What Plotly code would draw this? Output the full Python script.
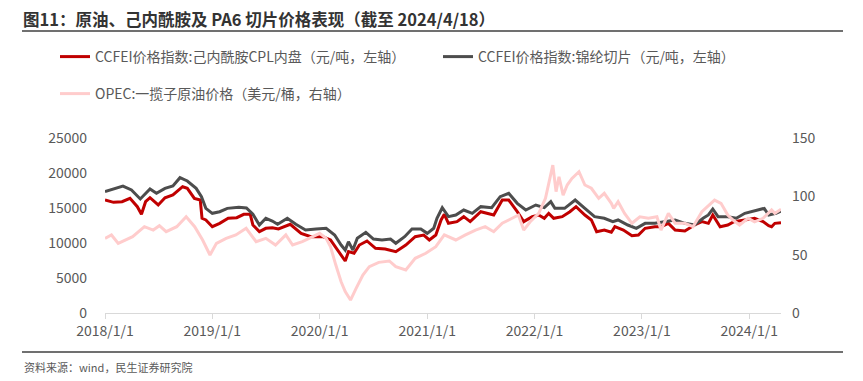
import plotly.graph_objects as go

# ---------------- data ----------------
cpl_dates = ["2018-01-01","2018-01-30","2018-02-28","2018-03-27","2018-04-21","2018-05-05","2018-05-19","2018-06-03",
             "2018-07-01","2018-07-24","2018-08-20","2018-09-22","2018-10-08","2018-11-01","2018-11-21","2018-11-27",
             "2018-12-10","2019-01-01","2019-01-26","2019-02-24","2019-03-25","2019-04-18","2019-05-10","2019-05-19",
             "2019-06-10","2019-07-02","2019-07-24","2019-08-14","2019-09-23","2019-10-30","2019-12-02","2020-01-12",
             "2020-02-07","2020-03-07","2020-03-28","2020-04-08","2020-04-27","2020-05-15","2020-06-10","2020-07-09",
             "2020-08-11","2020-09-16","2020-10-20","2020-11-21","2020-12-20","2021-01-08","2021-01-30","2021-02-17",
             "2021-02-28","2021-03-14","2021-04-12","2021-05-05","2021-05-27","2021-07-02","2021-07-28","2021-08-15",
             "2021-09-13","2021-10-05","2021-11-03","2021-11-25","2021-12-24","2022-01-15","2022-02-03","2022-02-18",
             "2022-03-07","2022-04-05","2022-05-01","2022-05-22","2022-06-21","2022-07-13","2022-07-31","2022-08-26",
             "2022-09-19","2022-10-01","2022-10-30","2022-11-28","2022-12-20","2023-01-12","2023-02-14","2023-03-07",
             "2023-04-01","2023-04-24","2023-05-27","2023-06-29","2023-07-24","2023-08-15","2023-08-30","2023-09-24",
             "2023-10-20","2023-11-10","2023-12-17","2024-01-19","2024-02-17","2024-03-07","2024-03-17","2024-03-28",
             "2024-04-18"]
cpl_values = [16140,15810,15900,16380,15190,14100,15900,16470,
              15430,16470,16860,18040,17810,16380,16140,13530,
              13290,12330,12810,13530,13620,14100,14100,12570,
              11620,12100,12190,12000,12670,11380,10900,10900,
              10430,8760,7430,8760,8530,9710,10290,9240,
              9140,8760,9710,10900,11140,10430,11140,13290,
              14100,12810,13050,13760,13050,14470,14240,14000,
              16140,16140,14470,13050,13760,14000,13530,14240,
              13530,13760,14470,15190,14000,13290,11620,11860,
              11530,12330,11860,11040,11140,12100,12330,12330,
              12810,11860,11720,12570,13050,12810,14000,12330,
              12570,13050,13290,13530,13050,12470,12330,12810,
              12900]

pa6_dates = ["2018-01-01","2018-01-30","2018-03-03","2018-04-01","2018-05-01","2018-06-03","2018-06-25","2018-07-24",
             "2018-08-20","2018-09-13","2018-10-08","2018-11-07","2018-11-25","2018-12-10","2019-01-01","2019-01-26",
             "2019-02-21","2019-04-01","2019-04-27","2019-05-19","2019-06-10","2019-07-02","2019-07-24","2019-08-11",
             "2019-09-13","2019-10-12","2019-11-14","2019-12-20","2020-01-23","2020-02-21","2020-03-14","2020-03-28",
             "2020-04-08","2020-04-23","2020-05-08","2020-06-06","2020-07-02","2020-07-31","2020-08-29","2020-09-16",
             "2020-10-16","2020-11-10","2020-12-10","2021-01-01","2021-01-23","2021-02-03","2021-02-21","2021-03-14",
             "2021-04-08","2021-05-05","2021-06-03","2021-07-02","2021-08-08","2021-09-06","2021-10-05","2021-11-03",
             "2021-12-02","2022-01-05","2022-02-03","2022-02-25","2022-03-11","2022-04-13","2022-05-19","2022-06-21",
             "2022-07-24","2022-08-26","2022-09-24","2022-10-12","2022-11-14","2022-12-13","2023-01-12","2023-02-14",
             "2023-03-22","2023-04-24","2023-05-27","2023-06-29","2023-07-28","2023-08-15","2023-08-30","2023-09-17",
             "2023-10-20","2023-11-18","2023-12-17","2024-01-19","2024-02-21","2024-03-07","2024-04-01","2024-04-18"]
pa6_values = [17330,17670,18140,17570,16290,17710,17100,17810,
              18140,19330,18860,17810,16620,14950,14240,14470,
              14950,15100,15000,14100,12570,13530,13140,12670,
              13530,12670,11860,12000,12100,11140,9710,9000,
              10190,9000,10670,11530,10570,10430,10570,9960,
              10900,12000,12000,11380,12100,13530,15040,13760,
              14000,14710,14240,15190,15050,16620,17100,15670,
              14710,15430,15050,15900,14950,14950,16140,14950,
              13760,13530,13050,13290,12570,12100,12810,12810,
              13050,13290,12810,12570,13530,14000,14860,13760,
              13760,13530,14240,14570,14950,14000,14240,14570]

opec_dates = ["2018-01-01","2018-01-23","2018-02-15","2018-03-10","2018-04-05","2018-05-15","2018-06-14","2018-07-05",
              "2018-07-28","2018-09-02","2018-10-04","2018-11-02","2018-11-29","2018-12-24","2019-01-15","2019-02-17",
              "2019-03-22","2019-04-26","2019-05-30","2019-07-02","2019-08-04","2019-09-08","2019-10-01","2019-11-03",
              "2019-12-07","2020-01-01","2020-01-23","2020-02-07","2020-02-25","2020-03-14","2020-03-28","2020-04-15",
              "2020-05-04","2020-05-27","2020-06-18","2020-07-20","2020-08-25","2020-09-16","2020-10-20","2020-11-21",
              "2020-12-27","2021-01-30","2021-02-28","2021-04-08","2021-05-11","2021-06-14","2021-07-17","2021-08-15",
              "2021-09-13","2021-10-16","2021-11-07","2021-11-25","2021-12-17","2022-01-15","2022-02-07","2022-03-04",
              "2022-03-15","2022-03-25","2022-04-08","2022-04-22","2022-05-08","2022-06-01","2022-06-21","2022-07-13",
              "2022-08-07","2022-08-26","2022-09-19","2022-09-27","2022-10-12","2022-11-03","2022-11-28","2022-12-25",
              "2023-01-23","2023-02-21","2023-03-07","2023-04-01","2023-04-24","2023-05-27","2023-06-24","2023-07-24",
              "2023-08-18","2023-09-05","2023-09-27","2023-10-20","2023-11-07","2023-11-29","2023-12-28","2024-01-19",
              "2024-02-17","2024-03-17","2024-03-28","2024-04-18"]
opec_values = [64.0,66.9,59.7,62.6,65.4,74.0,71.1,74.8,
               69.7,74.0,82.5,74.0,62.6,49.7,59.7,64.0,
               66.9,72.6,61.1,64.0,58.3,66.9,58.3,61.1,
               65.4,68.3,64.0,56.8,41.1,26.8,18.3,11.1,
               21.1,32.6,39.7,43.4,44.6,39.7,36.9,46.9,
               51.2,56.8,66.9,62.6,66.9,71.1,74.0,69.7,
               76.9,81.2,84.0,71.1,78.2,85.4,98.3,126.8,
               104.0,116.8,101.0,109.7,115.4,121.1,109.7,106.9,
               98.3,102.6,94.0,89.7,95.4,85.4,76.9,82.5,
               81.2,82.5,71.1,85.4,76.9,76.9,74.0,86.8,
               92.6,96.8,94.0,84.0,79.7,75.4,81.2,78.2,
               81.2,88.3,85.4,89.0]

x_tick_vals = ["2018-01-01","2019-01-01","2020-01-01","2021-01-01","2022-01-01","2023-01-01","2024-01-01"]
x_tick_labels = ["2018/1/1","2019/1/1","2020/1/1","2021/1/1","2022/1/1","2023/1/1","2024/1/1"]
left_ticks = [0, 5000, 10000, 15000, 20000, 25000]
left_tick_labels = ["0", "5000", "10000", "15000", "20000", "25000"]
right_ticks = [0, 50, 100, 150]
right_tick_labels = ["0", "50", "100", "150"]

series_names = ["CCFEI价格指数:己内酰胺CPL内盘（元/吨，左轴）",
                "CCFEI价格指数:锦纶切片（元/吨，左轴）",
                "OPEC:一揽子原油价格（美元/桶，右轴）"]
title_text = "图11：原油、己内酰胺及 PA6 切片价格表现（截至 2024/4/18）"
source_text = "资料来源：wind，民生证券研究院"

# ---------------- figure ----------------
# The page body adds an 8px offset, so the figure is drawn 8px smaller
# and every position below is given in page pixels minus that offset.
OFF = 8
W, H = 863 - OFF, 381 - OFF
L, T = 105 - OFF, 138 - OFF
PW, PH = 676, 175
R, B = W - L - PW, H - T - PH
FONT = "Noto Sans CJK SC"

def px_x(px):
    return (px - OFF - L) / PW

def px_y(py):
    return (T + PH - (py - OFF)) / PH

fig = go.Figure()
fig.add_trace(go.Scatter(x=cpl_dates, y=cpl_values, name=series_names[0], mode="lines",
                         line=dict(color="#C00000", width=3), yaxis="y", legend="legend"))
fig.add_trace(go.Scatter(x=pa6_dates, y=pa6_values, name=series_names[1], mode="lines",
                         line=dict(color="#4D4D4D", width=3), yaxis="y", legend="legend"))
fig.add_trace(go.Scatter(x=opec_dates, y=opec_values, name=series_names[2], mode="lines",
                         line=dict(color="#FFCCCC", width=3), yaxis="y2", legend="legend2"))

fig.update_layout(
    width=W, height=H,
    margin=dict(l=L, r=R, t=T, b=B),
    paper_bgcolor="white", plot_bgcolor="white",
    font=dict(family=FONT, color="#595959", size=14),
    showlegend=True,
    legend=dict(orientation="h", x=px_x(55), y=px_y(41), xanchor="left", yanchor="top",
                font=dict(size=14, color="#595959", family=FONT), entrywidth=338,
                bgcolor="rgba(0,0,0,0)", itemwidth=30),
    legend2=dict(orientation="h", x=px_x(55), y=px_y(78), xanchor="left", yanchor="top",
                 font=dict(size=14, color="#595959", family=FONT),
                 bgcolor="rgba(0,0,0,0)", itemwidth=30),
    xaxis=dict(type="date", range=["2018-01-01", "2024-04-18"],
               tickvals=x_tick_vals, ticktext=x_tick_labels,
               showgrid=False, zeroline=False, showline=True, linecolor="#D9D9D9", linewidth=1,
               ticks="outside", ticklen=5, tickcolor="#D9D9D9",
               tickfont=dict(size=14, color="#595959")),
    yaxis=dict(range=[0, 25000], tickvals=left_ticks, ticktext=left_tick_labels,
               showgrid=False, zeroline=False, showline=False, ticks="", ticklabelstandoff=17,
               tickfont=dict(size=14, color="#595959")),
    yaxis2=dict(range=[0, 150], tickvals=right_ticks, ticktext=right_tick_labels,
                overlaying="y", side="right",
                showgrid=False, zeroline=False, showline=False, ticks="", ticklabelstandoff=10,
                tickfont=dict(size=14, color="#595959")),
)

fig.add_annotation(text=f"<b>{title_text}</b>", xref="paper", yref="paper",
                   x=px_x(22), y=px_y(18.5), xanchor="left", yanchor="middle", showarrow=False,
                   borderpad=0, font=dict(size=16.5, color="#333333", family=FONT))
fig.add_annotation(text=source_text, xref="paper", yref="paper",
                   x=px_x(22), y=px_y(367), xanchor="left", yanchor="middle", showarrow=False,
                   font=dict(size=11, color="#595959", family=FONT))
fig.add_shape(type="line", xref="paper", yref="paper", x0=px_x(22), x1=px_x(843),
              y0=px_y(31), y1=px_y(31), line=dict(color="#404040", width=1.5))
fig.add_shape(type="line", xref="paper", yref="paper", x0=px_x(22), x1=px_x(843),
              y0=px_y(352), y1=px_y(352), line=dict(color="#404040", width=1.5))

fig.write_html("out.html")
